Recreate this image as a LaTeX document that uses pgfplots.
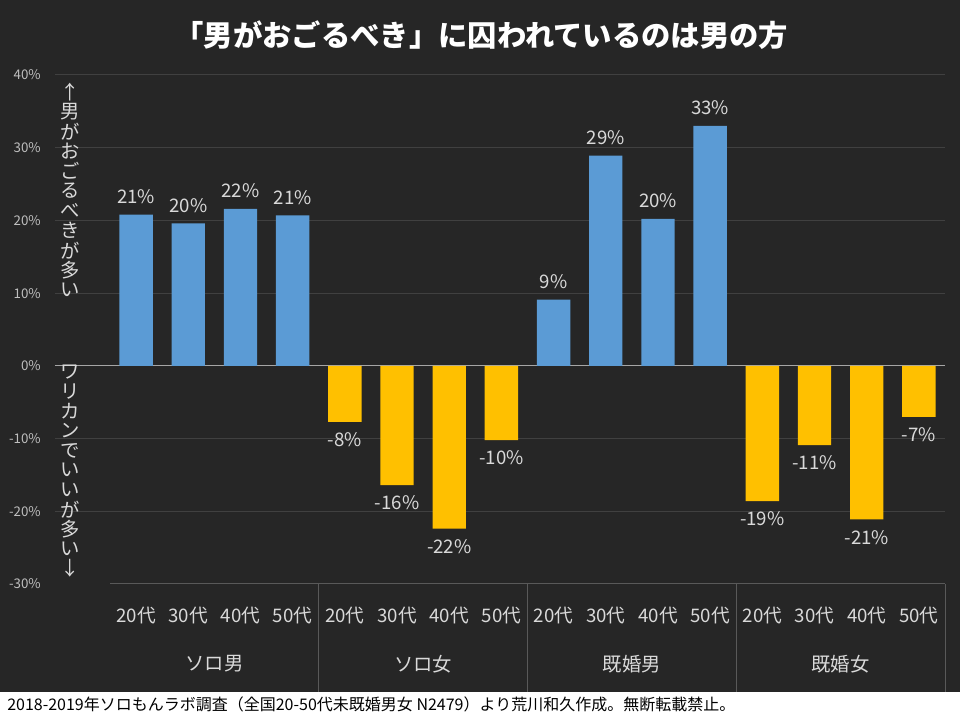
\documentclass[border=0pt]{standalone}
\usepackage{pgfplots}
\pgfplotsset{compat=1.18}
\usepackage{fontspec}
\setmainfont{Noto Sans CJK JP}
\definecolor{bg}{HTML}{262626}
\definecolor{barblue}{HTML}{5B9BD5}
\definecolor{baryellow}{HTML}{FFC000}
\definecolor{gridc}{HTML}{404040}
\definecolor{sepc}{HTML}{595959}
\definecolor{zeroc}{HTML}{A6A6A6}
\definecolor{lbl}{HTML}{D9D9D9}
\definecolor{tickc}{HTML}{BFBFBF}
\begin{document}
\begin{tikzpicture}
\useasboundingbox (0,0) rectangle (720pt,540pt);
\fill[bg] (0,0) rectangle (720pt,540pt);
\fill[white] (0,0) rectangle (720pt,21pt);
\node[anchor=west, font=\fontsize{12}{13}\selectfont, text=black, inner sep=0] at (5.25pt,11.5pt) {2018-2019年ソロもんラボ調査（全国20-50代未既婚男女 N2479）より荒川和久作成。無断転載禁止。};
\node[font=\bfseries\fontsize{22}{24}\selectfont, text=white] at (361pt,513.75pt) {「男がおごるべき」に囚われているのは男の方};
\begin{axis}[
  at={(82.5pt,102pt)}, anchor=south west,
  scale only axis, width=626.25pt, height=381.75pt,
  xmin=-0.5, xmax=15.5, ymin=-30, ymax=40,
  ybar, bar shift=0pt, bar width=0.64,
  axis line style={draw=none},
  major tick length=0pt,
  ytick={-30,-20,...,40},
  yticklabel={\pgfmathprintnumber{\tick}\%},
  yticklabel style={anchor=east, inner sep=0pt, xshift=-51.75pt, text=tickc, font=\fontsize{10}{12}\selectfont},
  xtick={0,...,15},
  xticklabels={20代,30代,40代,50代,20代,30代,40代,50代,20代,30代,40代,50代,20代,30代,40代,50代},
  xticklabel style={anchor=center, inner sep=0pt, yshift=-23.5pt, text=lbl, font=\fontsize{14}{15}\selectfont},
  /pgf/number format/assume math mode=true,
  nodes near coords={\pgfmathprintnumber[fixed,precision=0]{\pgfplotspointmeta}\%},
  every node near coord/.append style={text=lbl, inner sep=8pt, font=\fontsize{14}{15}\selectfont},
  clip=false,
]
\draw[gridc, line width=0.75pt] ([xshift=-41.25pt]axis cs:-0.5,40) -- (axis cs:15.5,40);
\draw[gridc, line width=0.75pt] ([xshift=-41.25pt]axis cs:-0.5,30) -- (axis cs:15.5,30);
\draw[gridc, line width=0.75pt] ([xshift=-41.25pt]axis cs:-0.5,20) -- (axis cs:15.5,20);
\draw[gridc, line width=0.75pt] ([xshift=-41.25pt]axis cs:-0.5,10) -- (axis cs:15.5,10);
\draw[gridc, line width=0.75pt] ([xshift=-41.25pt]axis cs:-0.5,-10) -- (axis cs:15.5,-10);
\draw[gridc, line width=0.75pt] ([xshift=-41.25pt]axis cs:-0.5,-20) -- (axis cs:15.5,-20);
\draw[zeroc, line width=0.75pt] ([xshift=-41.25pt]axis cs:-0.5,0) -- (axis cs:15.5,0);
\addplot[fill=barblue, draw=none] coordinates {(0,20.8) (1,19.6) (2,21.6) (3,20.7) (8,9.1) (9,28.9) (10,20.2) (11,33.0)};
\addplot[fill=baryellow, draw=none] coordinates {(4,-7.7) (5,-16.4) (6,-22.4) (7,-10.2) (12,-18.6) (13,-10.9) (14,-21.1) (15,-7.0)};
\draw[sepc, line width=0.75pt] (axis cs:-0.5,-30) -- (axis cs:15.5,-30);
\draw[sepc, line width=0.75pt] (axis cs:3.5,-30) -- ([yshift=-81pt]axis cs:3.5,-30);
\draw[sepc, line width=0.75pt] (axis cs:7.5,-30) -- ([yshift=-81pt]axis cs:7.5,-30);
\draw[sepc, line width=0.75pt] (axis cs:11.5,-30) -- ([yshift=-81pt]axis cs:11.5,-30);
\draw[sepc, line width=0.75pt] (axis cs:15.5,-30) -- ([yshift=-81pt]axis cs:15.5,-30);
\node[text=lbl, font=\fontsize{14.5}{16}\selectfont] at ([yshift=-60pt]axis cs:1.5,-30) {ソロ男};
\node[text=lbl, font=\fontsize{14.5}{16}\selectfont] at ([yshift=-60pt]axis cs:5.5,-30) {ソロ女};
\node[text=lbl, font=\fontsize{14.5}{16}\selectfont] at ([yshift=-60pt]axis cs:9.5,-30) {既婚男};
\node[text=lbl, font=\fontsize{14.5}{16}\selectfont] at ([yshift=-60pt]axis cs:13.5,-30) {既婚女};
\end{axis}
\foreach \c [count=\i from 0] in {↑,男,が,お,ご,る,べ,き,が,多,い}
  \node[text=lbl, font=\fontsize{14.5}{15}\selectfont, inner sep=0] at (52.5pt, 471pt-\i*14.85pt) {\c};
\foreach \c [count=\i from 0] in {ワ,リ,カ,ン,で,い,い,が,多,い,↓}
  \node[text=lbl, font=\fontsize{14.5}{15}\selectfont, inner sep=0] at (52.5pt, 261pt-\i*14.7pt) {\c};
\end{tikzpicture}
\end{document}
